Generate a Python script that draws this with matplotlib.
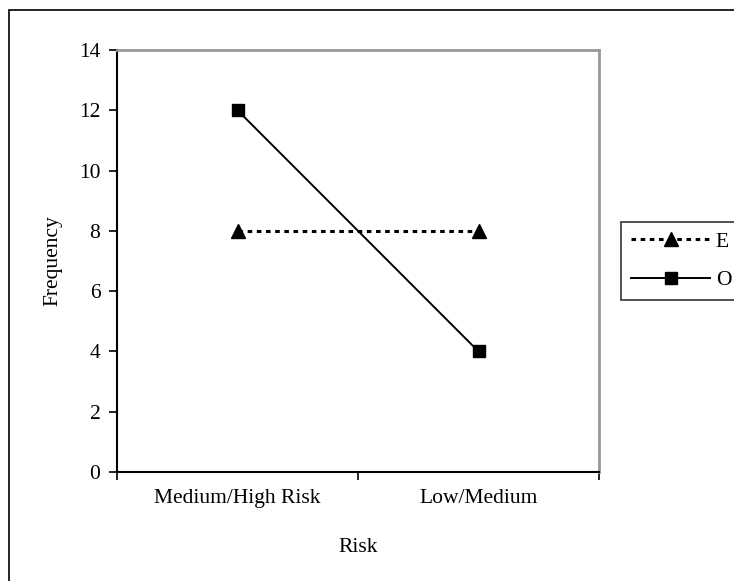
import matplotlib.pyplot as plt
from matplotlib.patches import Rectangle

categories = ["Medium/High Risk", "Low/Medium"]
expected = [8, 8]
observed = [12, 4]
y_ticks = [0, 2, 4, 6, 8, 10, 12, 14]

plt.rcParams["font.family"] = ["Liberation Serif", "DejaVu Serif"]
plt.rcParams["font.size"] = 15.5

W, H = 734, 581
fig = plt.figure(figsize=(W / 100, H / 100), dpi=100)

# outer chart border (clipped on the right and bottom, as in the source)
fig.patches.append(Rectangle((9 / W, -0.1), 1.0, 1.1 - 10 / H,
                             transform=fig.transFigure, fill=False,
                             edgecolor="black", linewidth=1.2))

ax = fig.add_axes([117 / W, 1 - 472 / H, 482 / W, 422 / H])
x = [0.5, 1.5]
ax.plot(x, expected, linestyle=(0, (1.5, 1.5)), color="black", linewidth=2.2,
        marker="^", markersize=10, label="E")
ax.plot(x, observed, linestyle="-", color="black", linewidth=1.4,
        marker="s", markersize=8, label="O")

ax.set_xlim(0, 2)
ax.set_ylim(0, 14)
ax.set_yticks(y_ticks)
ax.set_xticks([0, 1, 2])
ax.set_xticklabels([])
ax.set_xticks(x, minor=True)
ax.set_xticklabels(categories, minor=True)
ax.tick_params(axis="x", which="minor", length=0, pad=12)
ax.tick_params(axis="x", which="major", direction="out", length=6, width=1.2)
ax.tick_params(axis="y", direction="out", length=6, width=1.2, pad=6)

for side in ["top", "right"]:
    ax.spines[side].set_color("#999999")
    ax.spines[side].set_linewidth(2)
for side in ["left", "bottom"]:
    ax.spines[side].set_color("black")
    ax.spines[side].set_linewidth(1.5)

ax.set_ylabel("Frequency")
ax.set_xlabel("Risk", labelpad=22)
ax.yaxis.set_label_coords(-55 / 482, 0.5)

leg = fig.legend(loc="upper left", bbox_to_anchor=(621 / W, 1 - 222 / H),
                 borderaxespad=0, frameon=True, fancybox=False,
                 edgecolor="black", numpoints=1, handlelength=3.7,
                 handletextpad=0.25, borderpad=0.45, labelspacing=0.85)
leg.get_frame().set_linewidth(1.2)

fig.savefig("out.png", dpi=100)
